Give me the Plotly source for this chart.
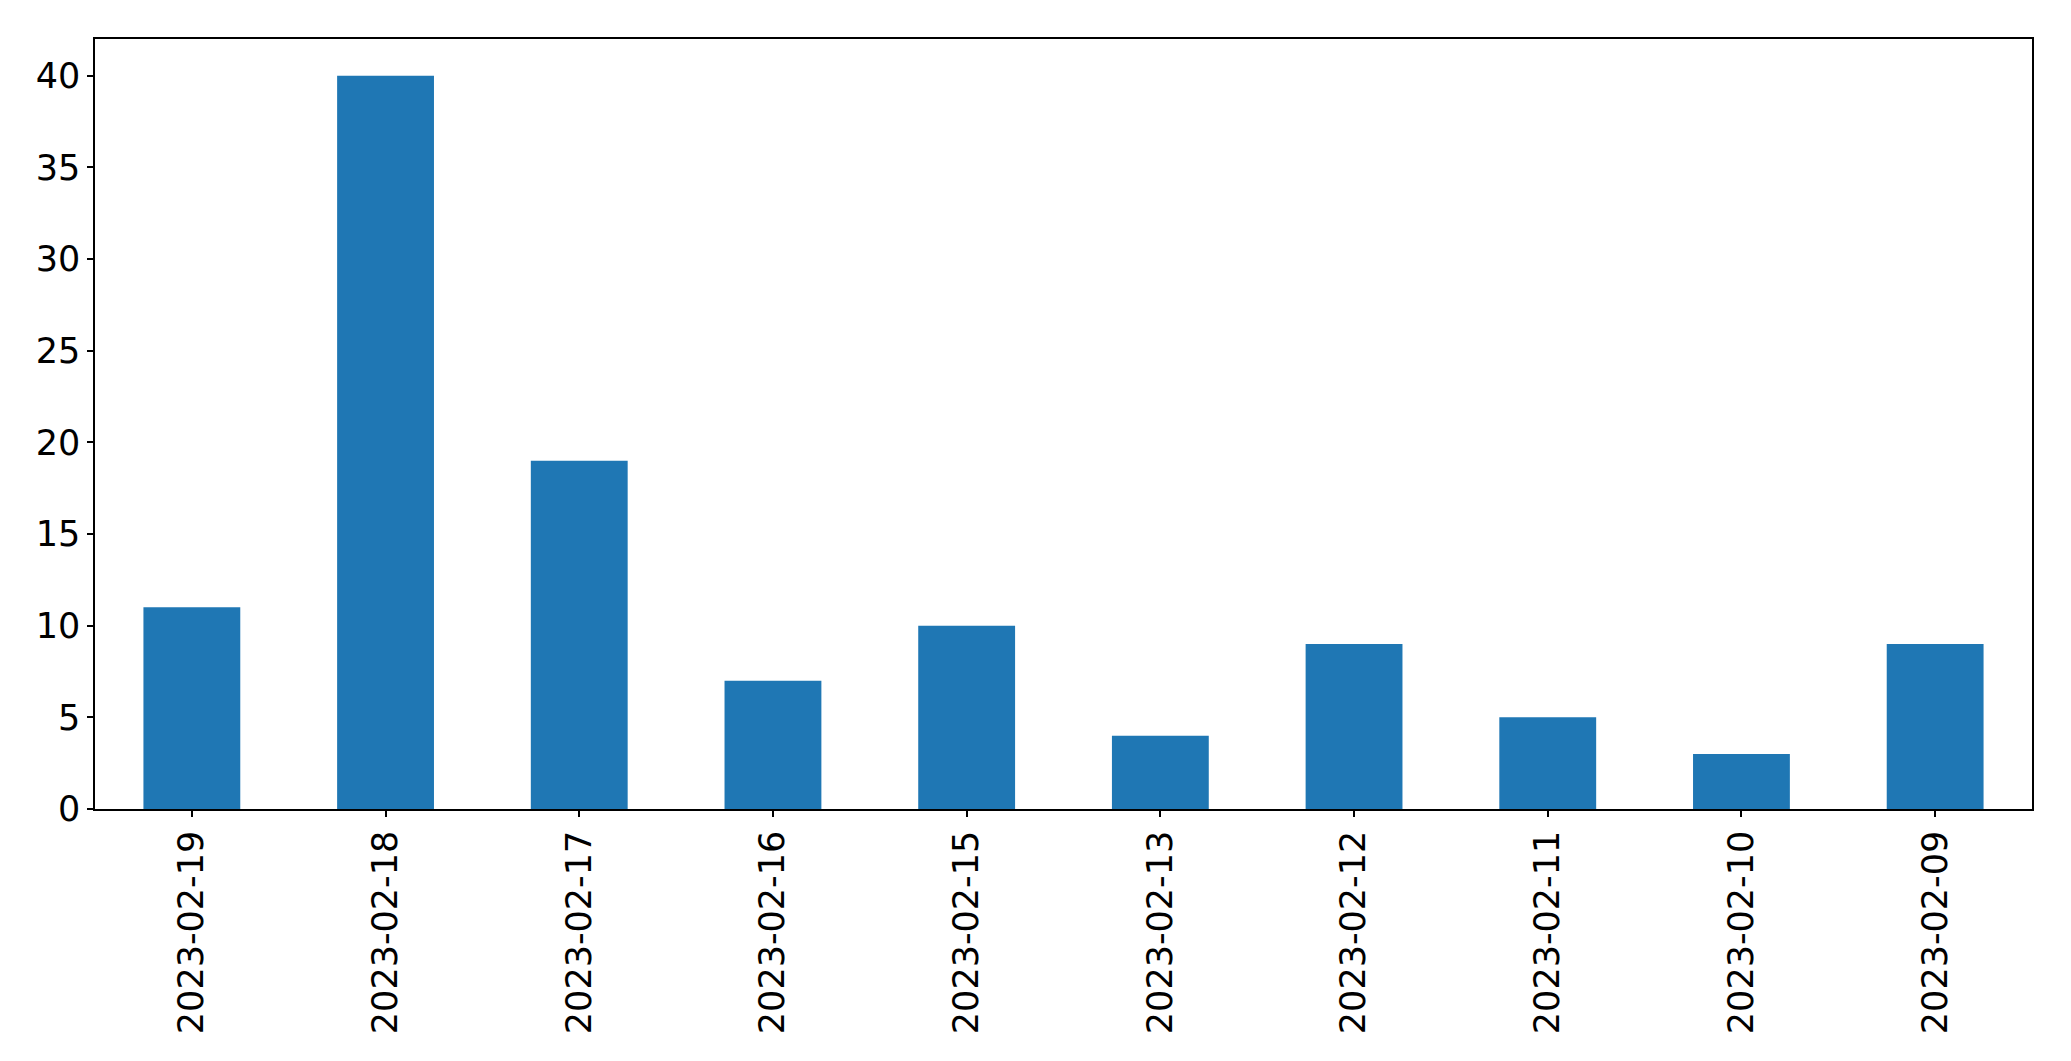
import plotly.graph_objects as go

dates = ["2023-02-19", "2023-02-18", "2023-02-17", "2023-02-16", "2023-02-15",
         "2023-02-13", "2023-02-12", "2023-02-11", "2023-02-10", "2023-02-09"]
counts = [11, 40, 19, 7, 10, 4, 9, 5, 3, 9]
y_ticks = [0, 5, 10, 15, 20, 25, 30, 35, 40]

fig = go.Figure(go.Bar(x=dates, y=counts, width=0.5, marker=dict(color="#1f77b4", line=dict(width=0))))

# page body has an 8px default margin; compensate so the plot area lands where the reference has it
fig.update_layout(
    width=2063, height=1053,
    margin=dict(l=87, r=39, t=31, b=252),
    paper_bgcolor="white", plot_bgcolor="white",
    font=dict(family="DejaVu Sans", size=35, color="black"),
    showlegend=False,
)
fig.update_xaxes(
    type="category", range=[-0.5, 9.5],
    showline=True, linecolor="black", linewidth=1.5, mirror=True,
    ticks="outside", ticklen=6, tickwidth=1.5, tickcolor="black",
    tickangle=-90, showgrid=False, zeroline=False, automargin=False,
)
fig.update_yaxes(
    range=[0, 42], tickvals=y_ticks,
    showline=True, linecolor="black", linewidth=1.5, mirror=True,
    ticks="outside", ticklen=6, tickwidth=1.5, tickcolor="black",
    showgrid=False, zeroline=False, automargin=False,
)

fig.write_html("out.html")
